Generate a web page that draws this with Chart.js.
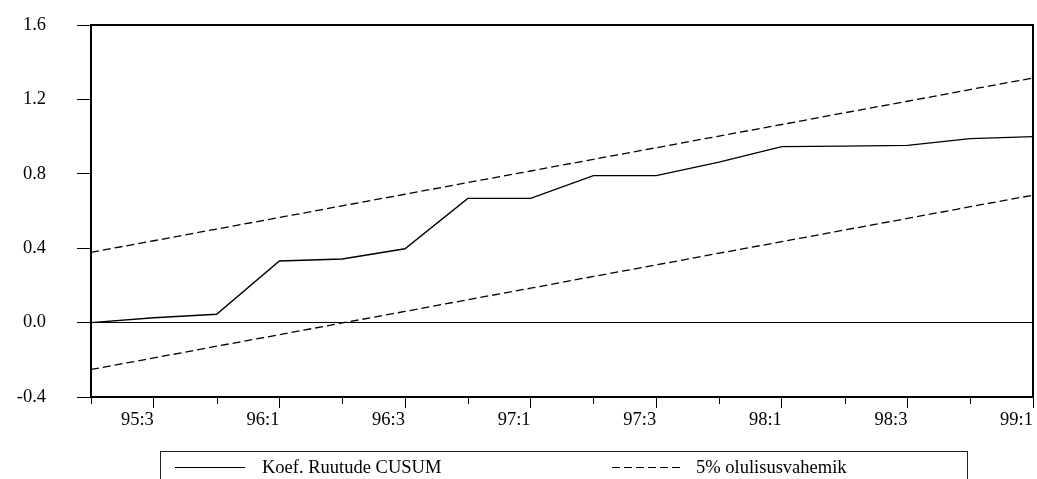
<!DOCTYPE html>
<html>
<head>
<meta charset="utf-8">
<script src="https://cdn.jsdelivr.net/npm/chart.js@4/dist/chart.umd.min.js"></script>
<style>
  html, body { margin: 0; padding: 0; background: #fff; }
  #wrap { width: 1037px; height: 479px; position: relative; }
</style>
</head>
<body>
<div id="wrap"><canvas id="c" width="1037" height="479"></canvas></div>
<script>
// Quarterly observations, 1995:2 .. 1999:1
const quarters = ['95:2','95:3','95:4','96:1','96:2','96:3','96:4','97:1',
                  '97:2','97:3','97:4','98:1','98:2','98:3','98:4','99:1'];

// CUSUM of squares statistic
const cusumSq = [0.000, 0.026, 0.045, 0.331, 0.342, 0.397, 0.668, 0.668,
                 0.790, 0.790, 0.863, 0.946, 0.949, 0.953, 0.989, 1.000];

// 5% significance band
const upperBand = [0.378, 0.440, 0.503, 0.565, 0.628, 0.690, 0.753, 0.815,
                   0.878, 0.940, 1.003, 1.065, 1.128, 1.190, 1.253, 1.315];
const lowerBand = [-0.252, -0.190, -0.127, -0.065, -0.002, 0.060, 0.123, 0.185,
                   0.248, 0.310, 0.373, 0.435, 0.498, 0.560, 0.623, 0.685];

const yTicks = [-0.4, 0.0, 0.4, 0.8, 1.2, 1.6];

const seriesLabels = ['Koef. Ruutude CUSUM', '5% olulisusvahemik'];

const FONT = { family: '"Liberation Serif", "Times New Roman", serif', size: 18.5 };

// Frame around the plot area plus the short unlabeled tick marks on the x axis
const framePlugin = {
  id: 'frame',
  afterDraw(chart) {
    const { ctx, chartArea: a } = chart;
    const x = chart.scales.x;
    ctx.save();
    ctx.strokeStyle = '#000';
    ctx.lineWidth = 1;
    for (let i = 0; i < x.ticks.length; i += 2) {
      const px = Math.round(x.getPixelForTick(i)) + 0.5;
      ctx.beginPath();
      ctx.moveTo(px, a.bottom);
      ctx.lineTo(px, a.bottom + 7);
      ctx.stroke();
    }
    ctx.lineWidth = 2;
    ctx.strokeRect(Math.round(a.left), Math.round(a.top), Math.round(a.right - a.left), Math.round(a.bottom - a.top));
    ctx.restore();
  }
};

// Boxed legend below the x axis
const legendBoxPlugin = {
  id: 'legendBox',
  afterDraw(chart) {
    const { ctx } = chart;
    const ds = chart.data.datasets;
    ctx.save();
    ctx.strokeStyle = '#222';
    ctx.lineWidth = 1;
    ctx.strokeRect(160.5, 451.5, 807, 60);
    const items = [
      { d: ds[0], x0: 175, x1: 245, tx: 262 },
      { d: ds[1], x0: 612, x1: 681, tx: 696 }
    ];
    const y = 467.5;
    ctx.font = `${FONT.size}px ${FONT.family}`;
    ctx.fillStyle = '#000';
    ctx.textBaseline = 'middle';
    ctx.textAlign = 'left';
    for (const it of items) {
      ctx.beginPath();
      ctx.setLineDash(it.d.borderDash || []);
      ctx.lineWidth = 1.2;
      ctx.strokeStyle = it.d.borderColor;
      ctx.moveTo(it.x0, y);
      ctx.lineTo(it.x1, y);
      ctx.stroke();
      ctx.setLineDash([]);
      ctx.fillText(it.d.label, it.tx, y + 1);
    }
    ctx.restore();
  }
};

new Chart(document.getElementById('c'), {
  type: 'line',
  data: {
    labels: quarters,
    datasets: [
      { label: seriesLabels[0], data: cusumSq, borderColor: '#000', borderWidth: 1.4,
        pointRadius: 0, tension: 0, fill: false },
      { label: seriesLabels[1], data: upperBand, borderColor: '#000', borderWidth: 1.3,
        borderDash: [8, 4], pointRadius: 0, tension: 0, fill: false },
      { label: seriesLabels[1], data: lowerBand, borderColor: '#000', borderWidth: 1.3,
        borderDash: [8, 4], pointRadius: 0, tension: 0, fill: false }
    ]
  },
  options: {
    responsive: false,
    animation: false,
    layout: { autoPadding: false, padding: { top: 25, right: 4, left: 0, bottom: 0 } },
    plugins: { legend: { display: false }, tooltip: { enabled: false } },
    scales: {
      x: {
        type: 'category',
        offset: false,
        border: { display: false },
        grid: {
          drawOnChartArea: false,
          tickLength: 11,
          lineWidth: 1,
          tickColor: (c) => (c.index % 2 === 1 ? '#000' : 'rgba(0,0,0,0)')
        },
        ticks: {
          autoSkip: false,
          maxRotation: 0,
          minRotation: 0,
          align: 'end',
          padding: 1,
          color: '#000',
          font: FONT,
          callback: (v, i) => (i % 2 === 1 ? quarters[i] : '')
        },
        afterFit: (s) => { s.height = 82; s.paddingLeft = 0; s.paddingRight = 0; }
      },
      y: {
        min: yTicks[0],
        max: yTicks[yTicks.length - 1],
        border: { display: false },
        afterBuildTicks: (s) => { s.ticks = yTicks.map(v => ({ value: v })); },
        grid: {
          tickLength: 14,
          lineWidth: 1,
          tickColor: '#000',
          color: (c) => (c.tick && Math.abs(c.tick.value) < 1e-9 ? '#000' : 'rgba(0,0,0,0)')
        },
        ticks: {
          padding: 31,
          color: '#000',
          font: FONT,
          callback: (v) => Number(v).toFixed(1)
        },
        afterFit: (s) => { s.width = 91; s.paddingTop = 0; s.paddingBottom = 0; }
      }
    }
  },
  plugins: [framePlugin, legendBoxPlugin]
});
</script>
</body>
</html>
